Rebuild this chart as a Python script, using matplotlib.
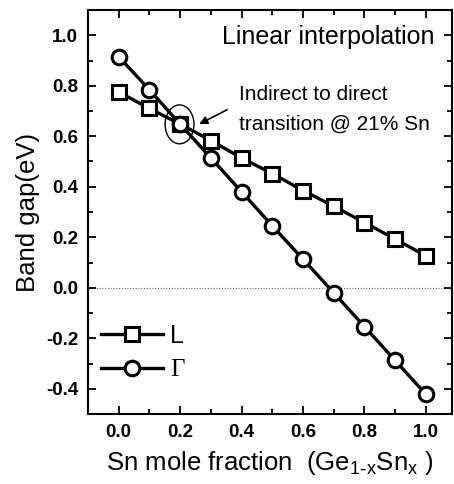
import matplotlib
matplotlib.use("Agg")
import matplotlib.pyplot as plt
from matplotlib.patches import Ellipse
from matplotlib.ticker import MultipleLocator

x = [0.0, 0.1, 0.2, 0.3, 0.4, 0.5, 0.6, 0.7, 0.8, 0.9, 1.0]
L_gap = [0.775, 0.71, 0.648, 0.583, 0.514, 0.452, 0.385, 0.323, 0.258, 0.193, 0.126]
G_gap = [0.915, 0.784, 0.648, 0.514, 0.38, 0.245, 0.113, -0.02, -0.154, -0.288, -0.422]
xticks = [0.0, 0.2, 0.4, 0.6, 0.8, 1.0]
yticks = [-0.4, -0.2, 0.0, 0.2, 0.4, 0.6, 0.8, 1.0]

plt.rcParams['font.family'] = ['Liberation Sans', 'DejaVu Sans']

fig = plt.figure(figsize=(4.54, 4.84), dpi=100)
W, H = 454, 484
left, right, top, bottom = 88, 452, 10, 414
ax = fig.add_axes([left / W, 1 - bottom / H, (right - left) / W, (bottom - top) / H])

ax.axhline(0, color='#666666', lw=0.8, ls=(0, (1, 1.5)), zorder=1)

lsq, = ax.plot(x, L_gap, color='black', lw=2.4, marker='s', ms=9.5, mfc='white',
               mec='black', mew=2.2, zorder=3)
lci, = ax.plot(x, G_gap, color='black', lw=2.4, marker='o', ms=10.5, mfc='white',
               mec='black', mew=2.2, zorder=3)

ax.set_xlim(-0.1, 1.085)
ax.set_ylim(-0.5, 1.1)
ax.set_xticks(xticks)
ax.set_yticks(yticks)
ax.xaxis.set_minor_locator(MultipleLocator(0.1))
ax.yaxis.set_minor_locator(MultipleLocator(0.1))
ax.tick_params(which='both', direction='in', top=True, right=True, width=1.3)
ax.tick_params(which='major', length=6)
ax.tick_params(which='minor', length=3.5)
ax.tick_params(axis='both', labelsize=13.5, pad=7)
ax.set_xticklabels([f"{v:.1f}" for v in xticks], fontweight='bold')
ax.set_yticklabels([f"{v:.1f}" for v in yticks], fontweight='bold')
for s in ax.spines.values():
    s.set_linewidth(1.5)

ax.set_ylabel('Band gap(eV)', fontsize=18.5, labelpad=4)
ax.set_xlabel(r'Sn mole fraction  (Ge$_{\mathregular{1\text{-}x}}$Sn$_{\mathregular{x}}$ )',
              fontsize=18.5, labelpad=6)

ax.text(1.028, 0.966, 'Linear interpolation', fontsize=18, ha='right', va='baseline')
ax.text(0.39, 0.745, 'Indirect to direct', fontsize=15, ha='left', va='baseline')
ax.text(0.39, 0.627, 'transition @ 21% Sn', fontsize=15, ha='left', va='baseline')
ax.add_patch(Ellipse((0.198, 0.647), 0.094, 0.154, fill=False, ec='black', lw=1, zorder=4))
ax.annotate('', xy=(0.254, 0.643), xytext=(0.361, 0.71),
            arrowprops=dict(arrowstyle='-|>', color='black', lw=1.2, mutation_scale=12))

leg = ax.legend([lsq, lci], ['L', 'Γ'], loc='center left', bbox_to_anchor=(0.0, 0.152),
                frameon=False, fontsize=18, handlelength=2.5, handletextpad=0.3,
                labelspacing=0.45, borderaxespad=0.1)
leg.get_texts()[1].set_fontfamily(['Liberation Serif', 'DejaVu Serif'])

fig.savefig('out.png', dpi=100)
